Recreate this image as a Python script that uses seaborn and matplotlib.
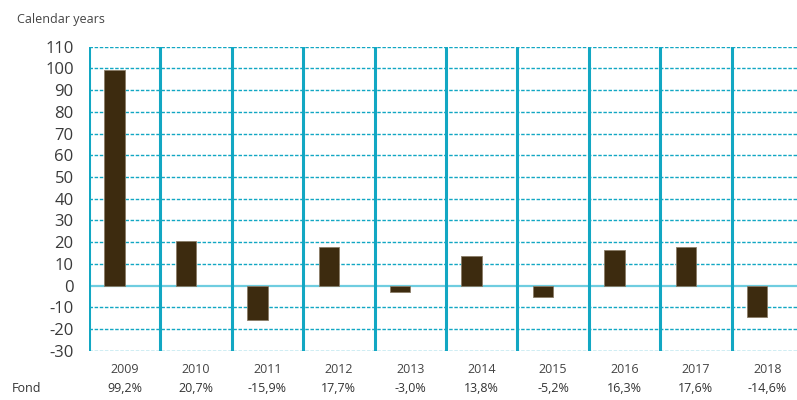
import matplotlib
matplotlib.use("Agg")
import matplotlib.pyplot as plt
import seaborn as sns
import pandas as pd

# data
years = ["2009", "2010", "2011", "2012", "2013", "2014", "2015", "2016", "2017", "2018"]
fond = [99.2, 20.7, -15.9, 17.7, -3.0, 13.8, -5.2, 16.3, 17.6, -14.6]
fond_labels = ["99,2%", "20,7%", "-15,9%", "17,7%", "-3,0%", "13,8%", "-5,2%", "16,3%", "17,6%", "-14,6%"]
y_ticks = list(range(-30, 111, 10))

teal = "#12a7c3"
bar_color = "#3d2b0f"

sns.set_style("white")
plt.rcParams["font.family"] = ["Open Sans", "DejaVu Sans"]

df = pd.DataFrame({"year": years, "fond": fond})

fig = plt.figure(figsize=(7.97, 4.0), dpi=100)
ax = fig.add_axes([89 / 797, 1 - 350.7 / 400, 714 / 797, 304 / 400])

sns.barplot(data=df, x="year", y="fond", color=bar_color, width=0.285,
            saturation=1, edgecolor="#8a7d68", linewidth=0.6, ax=ax, zorder=3)
# bars sit on the left half of each category
for p in ax.patches:
    p.set_x(p.get_x() - 0.1425)

ax.set_xlim(-0.5, len(years) - 0.5)
ax.set_ylim(-30, 110)
ax.set_yticks(y_ticks)
ax.set_yticklabels([str(v) for v in y_ticks], fontsize=12, color="#3a3a3a")

for v in y_ticks:
    if v == 0:
        ax.axhline(v, color="#6fcde0", lw=1.6, zorder=2)
    else:
        ax.axhline(v, color=teal, lw=1.0, ls=(0, (2.5, 1.2)), zorder=1)
for i in range(len(years)):
    ax.axvline(i - 0.5, color=teal, lw=2.2, zorder=2)

for s in ax.spines.values():
    s.set_visible(False)
ax.tick_params(axis="both", length=0)
ax.tick_params(axis="y", pad=11)
ax.tick_params(axis="x", pad=9)
ax.set_xticks(range(len(years)))
ax.set_xticklabels(years, fontsize=9, color="#444444")
ax.set_xlabel("")
ax.set_ylabel("")

# fund return row under the years
row_y = -(389 - 350.7) / 304
for i, lab in enumerate(fond_labels):
    ax.text(i, row_y, lab, transform=ax.get_xaxis_transform(), ha="center", va="center",
            fontsize=9, color="#333333")

fig.text(12 / 797, 1 - 389 / 400, "Fond", ha="left", va="center", fontsize=9, color="#333333")
fig.text(17 / 797, 1 - 20 / 400, "Calendar years", ha="left", va="center", fontsize=9, color="#444444")

fig.savefig("out.png", dpi=100)
